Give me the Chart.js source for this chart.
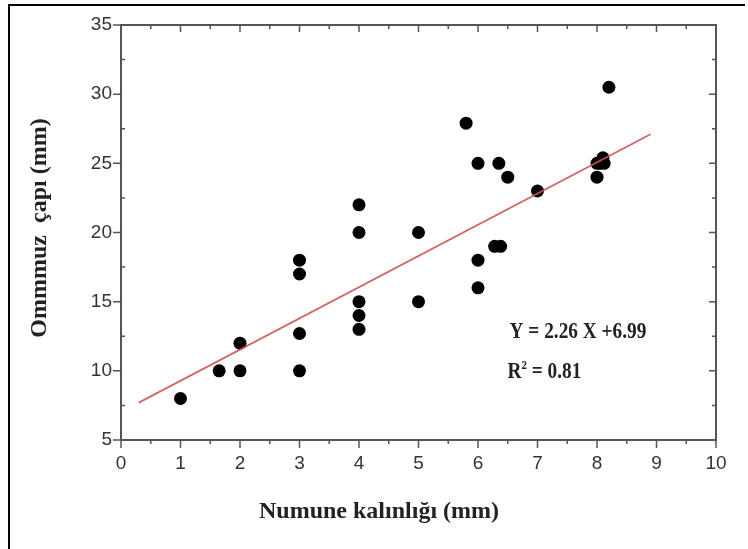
<!DOCTYPE html>
<html>
<head>
<meta charset="utf-8">
<script src="https://cdn.jsdelivr.net/npm/chart.js@4"></script>
<style>
  html, body { margin: 0; padding: 0; background: #fff; }
  #wrap { position: relative; width: 748px; height: 549px; }
</style>
</head>
<body>
<div id="wrap"><canvas id="chart" width="748" height="549"></canvas></div>
<script>
// Numune kalınlığı (mm) vs Ommmuz çapı (mm)
const thicknessMm = [1, 1.65, 2, 2, 3, 3, 3, 3, 4, 4, 4, 4, 4, 5, 5, 5.8, 6, 6, 6, 6.28, 6.38, 6.35, 6.5, 7, 8, 8, 8.05, 8.1, 8.12, 8.2];
const diameterMm  = [8, 10, 10, 12, 10, 12.7, 17, 18, 13, 14, 15, 20, 22, 15, 20, 27.9, 16, 18, 25, 19, 19, 25, 24, 23, 24, 25, 25, 25.4, 25, 30.5];

// regression line end points
const fitX = [0.3, 8.9];
const fitY = [7.7, 27.1];

const xTicks = [0, 1, 2, 3, 4, 5, 6, 7, 8, 9, 10];
const yTicks = [5, 10, 15, 20, 25, 30, 35];

const xTitle = "Numune kalınlığı (mm)";
const yTitle = "Ommmuz  çapı (mm)";
const equationText = "Y = 2.26 X +6.99";
const r2Text = " = 0.81";

const framePlugin = {
  id: "frame",
  beforeDraw(chart) {
    const ctx = chart.ctx;
    ctx.save();
    ctx.fillStyle = "#fff";
    ctx.fillRect(0, 0, chart.width, chart.height);
    // page border (left + top)
    ctx.strokeStyle = "#000";
    ctx.lineWidth = 2;
    ctx.beginPath();
    ctx.moveTo(9, chart.height);
    ctx.lineTo(9, 5);
    ctx.lineTo(745, 5);
    ctx.stroke();
    ctx.restore();
  },
  afterDraw(chart) {
    const { ctx, chartArea: a, scales: { x, y } } = chart;
    ctx.save();
    ctx.strokeStyle = "#555";
    ctx.lineWidth = 2;
    ctx.strokeRect(a.left, a.top, a.right - a.left, a.bottom - a.top);

    ctx.lineWidth = 1.5;
    ctx.beginPath();
    xTicks.forEach((v) => {
      const px = x.getPixelForValue(v);
      ctx.moveTo(px, a.bottom); ctx.lineTo(px, a.bottom + 8);
      ctx.moveTo(px, a.top); ctx.lineTo(px, a.top + 7);
      if (v < 10) {
        const pm = x.getPixelForValue(v + 0.5);
        ctx.moveTo(pm, a.bottom); ctx.lineTo(pm, a.bottom + 4);
        ctx.moveTo(pm, a.top); ctx.lineTo(pm, a.top + 4);
      }
    });
    yTicks.forEach((v) => {
      const py = y.getPixelForValue(v);
      ctx.moveTo(a.left - 8, py); ctx.lineTo(a.left, py);
      ctx.moveTo(a.right - 7, py); ctx.lineTo(a.right, py);
      if (v < 35) {
        const pm = y.getPixelForValue(v + 2.5);
        ctx.moveTo(a.left, pm); ctx.lineTo(a.left + 4, pm);
        ctx.moveTo(a.right, pm); ctx.lineTo(a.right - 4, pm);
      }
    });
    ctx.stroke();

    // axis titles
    ctx.fillStyle = "#222";
    ctx.font = 'bold 24px "Liberation Serif", "Times New Roman", serif';
    ctx.textAlign = "center";
    ctx.textBaseline = "middle";
    ctx.fillText(xTitle, 379, 512);
    ctx.save();
    ctx.translate(40, 228);
    ctx.rotate(-Math.PI / 2);
    ctx.fillText(yTitle, 0, 0);
    ctx.restore();

    // equation
    ctx.textAlign = "left";
    ctx.textBaseline = "alphabetic";
    const ex = x.getPixelForValue(6.53);
    ctx.save();
    ctx.translate(ex, 338);
    ctx.scale(0.84, 1);
    ctx.font = 'bold 23px "Liberation Serif", "Times New Roman", serif';
    ctx.fillText(equationText, 0, 0);
    ctx.restore();

    ctx.save();
    ctx.translate(ex - 2, 378);
    ctx.scale(0.84, 1);
    ctx.font = 'bold 23px "Liberation Serif", "Times New Roman", serif';
    ctx.fillText("R", 0, 0);
    let w = ctx.measureText("R").width;
    ctx.font = 'bold 13px "Liberation Serif", "Times New Roman", serif';
    ctx.fillText("2", w, -9);
    w += ctx.measureText("2").width;
    ctx.font = 'bold 23px "Liberation Serif", "Times New Roman", serif';
    ctx.fillText(r2Text, w, 0);
    ctx.restore();

    ctx.restore();
  }
};

const tickFont = { family: '"Liberation Sans", Arial, sans-serif', size: 19 };

new Chart(document.getElementById("chart"), {
  type: "scatter",
  data: {
    datasets: [
      {
        label: "Ölçüm",
        data: thicknessMm.map((t, i) => ({ x: t, y: diameterMm[i] })),
        backgroundColor: "#000",
        borderWidth: 0,
        pointRadius: 6.5,
        pointHoverRadius: 6.5,
        order: 2
      },
      {
        type: "line",
        label: "Doğrusal uyum",
        data: fitX.map((t, i) => ({ x: t, y: fitY[i] })),
        borderColor: "rgba(205, 85, 85, 0.9)",
        borderWidth: 1.8,
        pointRadius: 0,
        fill: false,
        order: 1
      }
    ]
  },
  options: {
    responsive: false,
    animation: false,
    events: [],
    layout: { padding: { top: 25, right: 32, left: 0, bottom: 0 } },
    plugins: {
      legend: { display: false },
      tooltip: { enabled: false }
    },
    scales: {
      x: {
        type: "linear",
        min: 0,
        max: 10,
        afterBuildTicks: (s) => { s.ticks = xTicks.map((v) => ({ value: v })); },
        afterFit: (s) => { s.height = 109; s.paddingLeft = 0; s.paddingRight = 0; },
        ticks: { font: tickFont, color: "#333", padding: 12, maxRotation: 0 },
        grid: { display: false, drawTicks: false },
        border: { display: false }
      },
      y: {
        min: 5,
        max: 35,
        afterBuildTicks: (s) => { s.ticks = yTicks.map((v) => ({ value: v })); },
        afterFit: (s) => { s.width = 121; s.paddingTop = 0; s.paddingBottom = 0; },
        ticks: { font: tickFont, color: "#333", padding: 9 },
        grid: { display: false, drawTicks: false },
        border: { display: false }
      }
    }
  },
  plugins: [framePlugin]
});
</script>
</body>
</html>
